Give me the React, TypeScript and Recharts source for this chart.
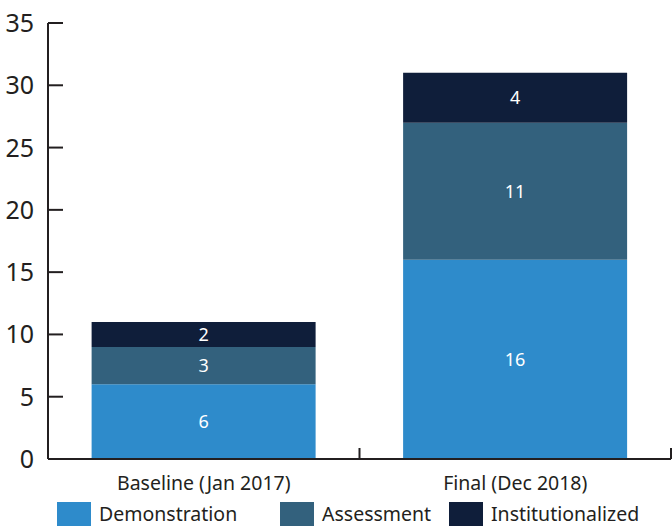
import { BarChart, Bar, XAxis, YAxis, LabelList, Legend } from "recharts";

const categories = ["Baseline (Jan 2017)", "Final (Dec 2018)"];
const demonstration = [6, 16];
const assessment = [3, 11];
const institutionalized = [2, 4];
const yTicks = [0, 5, 10, 15, 20, 25, 30, 35];

const series = [
  { key: "Demonstration", color: "#2E8BCB" },
  { key: "Assessment", color: "#33617D" },
  { key: "Institutionalized", color: "#0F1E3A" },
];

const data = categories.map((label, i) => ({
  label,
  Demonstration: demonstration[i],
  Assessment: assessment[i],
  Institutionalized: institutionalized[i],
}));

const W = 672;
const H = 527;
const LEFT = 48;
const RIGHT = 1;
const LEGEND_H = 28;
const XAXIS_H = 40;
const AXIS_Y = H - LEGEND_H - XAXIS_H;
const FONT = "'Noto Sans', sans-serif";
const INK = "#231F20";
const band = (W - LEFT - RIGHT) / categories.length;

function YTick(props: any) {
  const { x, y, payload } = props;
  return (
    <g>
      <line x1={LEFT} x2={LEFT + 15} y1={y} y2={y} stroke={INK} strokeWidth={2} />
      <text x={x - 6} y={y} dy={9} textAnchor="end" fontSize={25} fill={INK} fontFamily={FONT}>
        {payload.value}
      </text>
    </g>
  );
}

function XTick(props: any) {
  const { x, payload } = props;
  return (
    <g>
      <line x1={x + band / 2} x2={x + band / 2} y1={AXIS_Y} y2={AXIS_Y - 11} stroke={INK} strokeWidth={2} />
      <text x={x} y={AXIS_Y + 31} textAnchor="middle" fontSize={19.5} fill={INK} fontFamily={FONT}>
        {payload.value}
      </text>
    </g>
  );
}

function LegendBox() {
  const spots = [57, 280, 449];
  return (
    <div style={{ position: "relative", height: LEGEND_H, width: W, fontFamily: FONT, fontSize: 19.5, color: INK }}>
      {series.map((s, i) => (
        <div key={s.key} style={{ position: "absolute", left: spots[i], top: 3, display: "flex", alignItems: "center" }}>
          <span style={{ display: "inline-block", width: 34, height: 24, background: s.color }} />
          <span style={{ marginLeft: 8, lineHeight: "24px" }}>{s.key}</span>
        </div>
      ))}
    </div>
  );
}

export default function App() {
  return (
    <div style={{ position: "absolute", left: 0, top: 0, background: "#fff" }}>
      <BarChart width={W} height={H} data={data} margin={{ top: 23, right: RIGHT, left: 0, bottom: 0 }} barCategoryGap="14%">
        <XAxis
          dataKey="label"
          axisLine={{ stroke: INK, strokeWidth: 2 }}
          tickLine={false}
          tick={<XTick />}
          height={XAXIS_H}
          interval={0}
        />
        <YAxis
          domain={[0, 35]}
          ticks={yTicks}
          width={LEFT}
          axisLine={{ stroke: INK, strokeWidth: 2 }}
          tickLine={false}
          tick={<YTick />}
          interval={0}
        />
        <Legend verticalAlign="bottom" content={<LegendBox />} wrapperStyle={{ left: 0, width: W }} />
        {series.map((s) => (
          <Bar key={s.key} dataKey={s.key} stackId="a" fill={s.color} isAnimationActive={false}>
            <LabelList dataKey={s.key} position="center" fill="#fff" fontSize={18} fontFamily={FONT} />
          </Bar>
        ))}
      </BarChart>
    </div>
  );
}
